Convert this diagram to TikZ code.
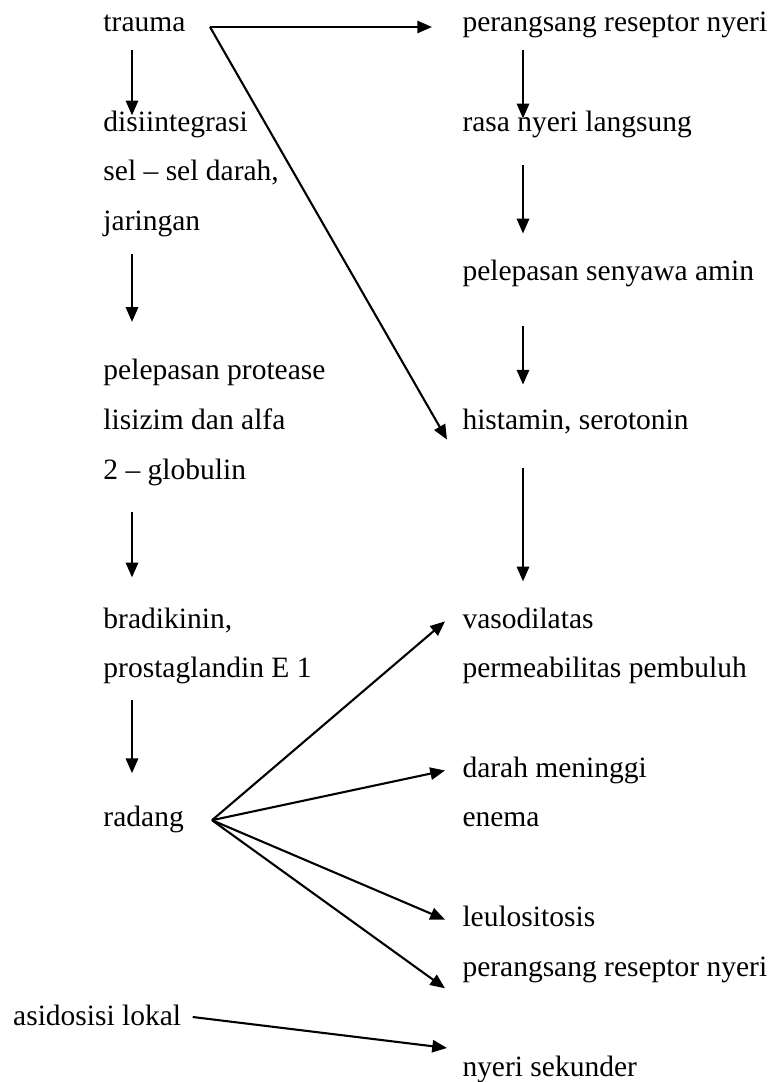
\documentclass[tikz,border=0pt]{standalone}
\usepackage{fontspec}
\setmainfont{Liberation Serif}
\usetikzlibrary{arrows.meta}

\begin{document}
\begin{tikzpicture}[x=0.4068pt,y=-0.4068pt,
    lbl/.style={anchor=west,inner sep=0pt,text height=8.1pt,text depth=2.6pt,font=\fontsize{12pt}{14pt}\selectfont},
    arr/.style={line width=0.85pt,-{Triangle[length=6pt,width=5pt]}}]
  \useasboundingbox (0,0) rectangle (779,1082);

  \node[lbl] (trauma) at (103,25) {trauma};
  \node[lbl] (disi) at (103,124.4) {disiintegrasi};
  \node[lbl] (sel) at (103,174.1) {sel – sel darah,};
  \node[lbl] (jaringan) at (103,223.8) {jaringan};
  \node[lbl] (prot) at (103,372.9) {pelepasan protease};
  \node[lbl] (lisizim) at (103,422.6) {lisizim dan alfa};
  \node[lbl] (glob) at (103,472.3) {2 – globulin};
  \node[lbl] (brad) at (103,621.4) {bradikinin,};
  \node[lbl] (prost) at (103,671.1) {prostaglandin E 1};
  \node[lbl] (radang) at (103,820.2) {radang};
  \node[lbl] (asid) at (12.7,1019) {asidosisi lokal};

  \node[lbl] (nyeria) at (462,25) {perangsang reseptor nyeri};
  \node[lbl] (rasa) at (462,124.4) {rasa nyeri langsung};
  \node[lbl] (amin) at (462,273.5) {pelepasan senyawa amin};
  \node[lbl] (hist) at (462,422.6) {histamin, serotonin};
  \node[lbl] (vaso) at (462,621.4) {vasodilatas};
  \node[lbl] (perm) at (462,671.1) {permeabilitas pembuluh};
  \node[lbl] (darah) at (462,770.5) {darah meninggi};
  \node[lbl] (enema) at (462,820.2) {enema};
  \node[lbl] (leulo) at (462,919.6) {leulositosis};
  \node[lbl] (nyerib) at (462,969.3) {perangsang reseptor nyeri};
  \node[lbl] (sekunder) at (462,1070) {nyeri sekunder};

  \draw[arr] ([shift={(107,2)}]trauma.west) -- ([shift={(-30,2)}]nyeria.west);
  \draw[arr] ([shift={(107,2)}]trauma.west) -- ([shift={(-15,17)}]hist.west);

  \draw[arr] ([shift={(29,25)}]trauma.west) -- ([shift={(29,-9)}]disi.west);
  \draw[arr] ([shift={(29,30)}]jaringan.west) -- ([shift={(29,-51)}]prot.west);
  \draw[arr] ([shift={(29,40)}]glob.west) -- ([shift={(29,-44)}]brad.west);
  \draw[arr] ([shift={(29,29)}]prost.west) -- ([shift={(29,-47)}]radang.west);

  \draw[arr] ([shift={(61,25)}]nyeria.west) -- ([shift={(61,-6)}]rasa.west);
  \draw[arr] ([shift={(61,41)}]rasa.west) -- ([shift={(61,-40)}]amin.west);
  \draw[arr] ([shift={(61,52)}]amin.west) -- ([shift={(61,-38)}]hist.west);
  \draw[arr] ([shift={(61,45)}]hist.west) -- ([shift={(61,-40)}]vaso.west);

  \foreach \t/\dy in {vaso/0,darah/0,leulo/0,nyerib/19}
    \draw[arr] ([shift={(109,0)}]radang.west) -- ([shift={(-17,\dy)}]\t.west);

  \draw[arr] ([shift={(180,-2)}]asid.west) -- ([shift={(-15,-22)}]sekunder.west);
\end{tikzpicture}
\end{document}
